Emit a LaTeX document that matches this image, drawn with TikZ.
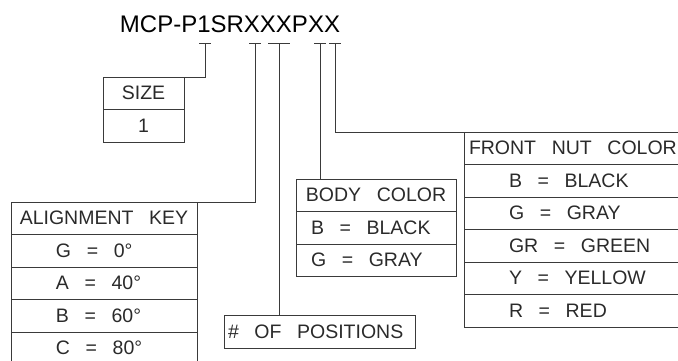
\documentclass[tikz,border=0pt]{standalone}
\usepackage{fontspec}
\setmainfont{Liberation Sans}
\usetikzlibrary{positioning}

\definecolor{linegray}{HTML}{3A3A3A}
\definecolor{inkgray}{HTML}{2A2A2A}
\newcommand{\wgap}{\hspace{0.8em}}
\newcommand{\cadfont}{\fontsize{19.5}{24}\selectfont}

\begin{document}
\begin{tikzpicture}[x=1pt, y=-1pt,
    cell/.style={draw=linegray, line width=0.9pt, outer sep=0pt, minimum height=32.5pt,
      font=\cadfont, text=inkgray, align=left},
    lead/.style={draw=linegray, line width=0.9pt},
    ticktop/.style={draw=linegray, line width=1pt}]

  \clip (0,0) rectangle (678,360);

  % Part number
  \node[font=\fontsize{24}{28}\selectfont, text=black] (title) at (230,24) {MCP-P1SRXXXPXX};

  \coordinate (t1) at (205,43);
  \coordinate (t2) at (255,43);
  \coordinate (t3) at (279,43);
  \coordinate (t4) at (320,43);
  \coordinate (t5) at (335,43);
  \foreach \p/\w in {t1/6, t2/6, t3/11, t4/6, t5/6}
    \draw[ticktop] ([xshift=-\w pt]\p) -- ([xshift=\w pt]\p);

  % Size
  \node[cell, align=center, inner xsep=0pt, text width=81pt] (sz1) at (143.5,93.25) {SIZE};
  \node[cell, align=center, inner xsep=0pt, text width=81pt, below=0pt of sz1] (sz2) {1};

  % Alignment key
  \node[cell, align=center, inner xsep=0pt, text width=186pt] (al0) at (104,218.25) {ALIGNMENT\wgap KEY};
  \node[cell, inner xsep=45pt, text width=96pt, below=0pt of al0] (al1) {G\wgap=\wgap 0°};
  \node[cell, inner xsep=45pt, text width=96pt, below=0pt of al1] (al2) {A\wgap=\wgap 40°};
  \node[cell, inner xsep=45pt, text width=96pt, below=0pt of al2] (al3) {B\wgap=\wgap 60°};
  \node[cell, inner xsep=45pt, text width=96pt, below=0pt of al3] (al4) {C\wgap=\wgap 80°};

  % Number of positions
  \node[cell, minimum height=33pt, inner xsep=4pt, text width=183pt] (pos) at (319.5,331.5) {\#\wgap OF\wgap POSITIONS};

  % Body color
  \node[cell, align=center, inner xsep=0pt, text width=160pt] (bc0) at (376,195.25) {BODY\wgap COLOR};
  \node[cell, inner xsep=15pt, text width=130pt, below=0pt of bc0] (bc1) {B\wgap=\wgap BLACK};
  \node[cell, inner xsep=15pt, text width=130pt, below=0pt of bc1] (bc2) {G\wgap=\wgap GRAY};

  % Front nut color
  \node[cell, inner xsep=5pt, text width=250pt] (fn0) at (594,148.25) {FRONT\wgap NUT\wgap COLOR};
  \node[cell, inner xsep=45pt, text width=170pt, below=0pt of fn0] (fn1) {B\wgap=\wgap BLACK};
  \node[cell, inner xsep=45pt, text width=170pt, below=0pt of fn1] (fn2) {G\wgap=\wgap GRAY};
  \node[cell, inner xsep=45pt, text width=170pt, below=0pt of fn2] (fn3) {GR\wgap=\wgap GREEN};
  \node[cell, inner xsep=45pt, text width=170pt, below=0pt of fn3] (fn4) {Y\wgap=\wgap YELLOW};
  \node[cell, inner xsep=45pt, text width=170pt, below=0pt of fn4] (fn5) {R\wgap=\wgap RED};

  % Leaders
  \draw[lead] (t1) |- (sz1.north east);
  \draw[lead] (t2) |- (al0.north east);
  \draw[lead] (t3) -- (t3 |- pos.north);
  \draw[lead] (t4) -- (t4 |- bc0.north);
  \draw[lead] (t5) |- (fn0.north west);

\end{tikzpicture}
\end{document}
